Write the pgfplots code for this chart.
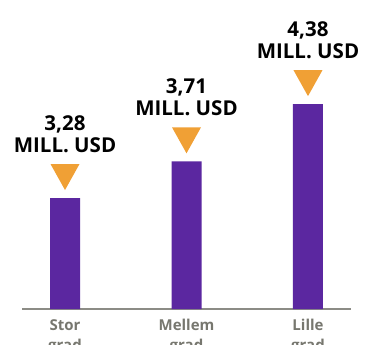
\documentclass[border=0pt]{standalone}
\usepackage{pgfplots}
\pgfplotsset{compat=1.18}
\usepackage{fontspec}
\setmainfont{Open Sans}
\definecolor{barpurple}{HTML}{5B27A0}
\definecolor{triorange}{HTML}{F0A035}
\definecolor{axgray}{HTML}{8C8C86}
\definecolor{labgray}{HTML}{77776F}
\pgfdeclareplotmark{dtri}{%
  \pgfpathmoveto{\pgfpoint{-14.5bp}{34bp}}%
  \pgfpathlineto{\pgfpoint{14.5bp}{34bp}}%
  \pgfpathlineto{\pgfpoint{0bp}{8bp}}%
  \pgfpathclose
  \pgfusepathqfill}
\begin{document}
\begin{tikzpicture}
\clip (0,0) rectangle (366bp,345bp);
\begin{axis}[
  at={(22bp,36bp)}, anchor=south west,
  scale only axis, width=329bp, height=309bp,
  xmin=-0.354, xmax=2.354,
  ymin=1.98, ymax=5.60,
  axis x line*=bottom, axis y line=none,
  x axis line style={-, axgray, line width=1.4bp},
  xtick={0,1,2},
  xticklabels={Stor\\grad, Mellem\\grad, Lille\\grad},
  major tick length=0pt,
  xticklabel style={align=center, anchor=north, inner sep=0pt, yshift=-10bp,
    font=\fontsize{15bp}{20bp}\selectfont\bfseries, text=labgray},
  clip=false,
]
\addplot[ybar, bar width=30bp, fill=barpurple, draw=none] coordinates {(0,3.28) (1,3.71) (2,4.38)};
\addplot[only marks, mark=dtri, mark options={fill=triorange, draw=none},
  point meta=explicit symbolic,
  nodes near coords={\pgfplotspointmeta\\MILL. USD},
  nodes near coords style={align=center, anchor=south, inner sep=0pt, yshift=45bp,
    font=\fontsize{20.5bp}{22bp}\selectfont\bfseries, text=black}]
  coordinates {(0,3.28) [3,28] (1,3.71) [3,71] (2,4.38) [4,38]};
\end{axis}
\end{tikzpicture}
\end{document}
